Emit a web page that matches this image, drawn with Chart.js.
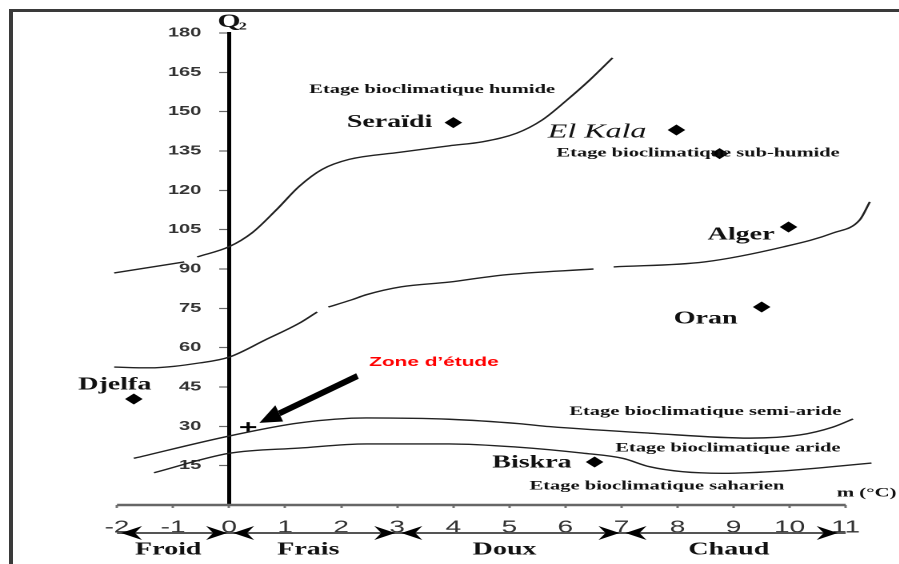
<!DOCTYPE html>
<html lang="fr">
<head>
<meta charset="utf-8">
<title>Climagramme d'Emberger</title>
<script src="https://cdn.jsdelivr.net/npm/chart.js@4/dist/chart.umd.min.js"></script>
<style>
  html, body { margin: 0; padding: 0; background: #fff; overflow: hidden; }
  #frame {
    position: absolute; left: 9px; top: 9px; width: 900px; height: 560px;
    border-top: 3px solid #3a3a3a; border-left: 4px solid #3a3a3a;
  }
  /* the original figure is stretched sideways, so is the canvas */
  #stretch { position: absolute; left: 0; top: 0; transform: scaleX(1.6); transform-origin: 0 0; }
</style>
</head>
<body>
<div id="frame"></div>
<div id="stretch"><canvas id="chart" width="562" height="564"></canvas></div>
<script>
var STRETCH = 1.6;

// limits between the bioclimatic stages (m in °C, Q2), null = gap in the drawn line
var humideM = [-2.05, -0.8, -0.68, -0.57, 0, 0.41, 0.84, 1.25, 1.66, 2.14, 3.04, 3.93, 4.52, 5.13, 5.59, 6.02, 6.43, 6.84];
var humideQ = [88.5, 92.7, null, 94.6, 98.5, 103.8, 112.5, 121.5, 128, 131.8, 134.5, 137, 138.5, 141.8, 146.9, 154.3, 162, 170.5];

var subHumideM = [-2.05, -1.43, -0.52, 0, 0.64, 1.25, 1.57, 1.67, 1.77, 2.18, 2.45, 3.07, 3.93, 4.88, 6.5, 6.68, 6.86, 8.48, 9.88, 10.77, 11.25, 11.43];
var subHumideQ = [52.6, 52.3, 54.2, 56.4, 62.9, 69.3, 73.6, null, 75.5, 78.2, 80.2, 83.2, 85, 87.7, 90, null, 90.8, 92.7, 98.4, 103.7, 108.7, 115.6];

var semiAridM = [-1.7, 0, 1.25, 2.45, 3.93, 5.18, 5.71, 7.5, 9.29, 10.18, 10.77, 11.13];
var semiAridQ = [17.8, 26.3, 31.3, 33.2, 32.7, 31.0, 29.9, 27.4, 25.5, 26.7, 29.7, 32.8];

var arideM = [-1.34, 0, 1.25, 2.45, 3.93, 5.13, 6.3, 7.02, 7.5, 8.09, 8.8, 9.88, 11.46];
var arideQ = [12.3, 19.7, 21.7, 23.3, 23.3, 22.1, 19.8, 17.8, 14.6, 12.7, 12.1, 13.0, 16.0];

// stations
var stationNames = ['Seraïdi', 'El Kala', '', 'Alger', 'Oran', 'Djelfa', 'Biskra'];
var stationM = [4.0, 7.98, 8.75, 9.98, 9.5, -1.7, 6.52];
var stationQ = [145.8, 143, 134, 106, 75.5, 40.4, 16.4];

// study area
var studyM = [0.34];
var studyQ = [29.7];

// axis
var xTicksMin = -2, xTicksMax = 11;
var zoneNames = ['Froid', 'Frais', 'Doux', 'Chaud'];
var zoneBounds = [-2, 0, 3, 7, 11];

// stage names
var stageNames = ['Etage bioclimatique humide', 'Etage bioclimatique sub-humide', 'Etage bioclimatique semi-aride', 'Etage bioclimatique aride', 'Etage bioclimatique saharien'];
var stageM = [1.43, 5.84, 6.07, 6.89, 5.36];
var stageQ = [158.4, 134.2, 35.5, 21.7, 7.2];

function pts(ms, qs) {
  return ms.map(function (m, i) { return {x: m, y: qs[i]}; });
}

var SERIF = '"Liberation Serif", "Times New Roman", serif';
var SANS = '"Liberation Sans", Arial, sans-serif';

// where each station name sits from its marker (screen px)
var nameLayout = {
  'Seraïdi': {dx: -21, dy: 0, align: 'right', font: 'bold 17.5px ' + SERIF},
  'El Kala': {dx: -30, dy: 2, align: 'right', font: 'italic 20px ' + SERIF},
  'Alger': {dx: -14, dy: 8, align: 'right', font: 'bold 17.5px ' + SERIF},
  'Oran': {dx: -24, dy: 12, align: 'right', font: 'bold 17.5px ' + SERIF},
  'Djelfa': {dx: -19, dy: -14, align: 'center', font: 'bold 17.5px ' + SERIF},
  'Biskra': {dx: -23, dy: 1, align: 'right', font: 'bold 17.5px ' + SERIF}
};

var decor = {
  id: 'decor',
  afterDatasetsDraw: function (chart) {
    var ctx = chart.ctx, xs = chart.scales.x, ys = chart.scales.y;
    var x0 = xs.getPixelForValue(0), y0 = ys.getPixelForValue(0);
    ctx.save();
    ctx.textBaseline = 'middle';
    ctx.fillStyle = '#111';

    // stage names
    ctx.font = 'bold 12.8px ' + SERIF;
    ctx.textAlign = 'left';
    stageNames.forEach(function (s, i) {
      ctx.fillText(s, xs.getPixelForValue(stageM[i]), ys.getPixelForValue(stageQ[i]));
    });

    // station names
    stationNames.forEach(function (s, i) {
      var l = nameLayout[s];
      if (!l) return;
      ctx.font = l.font;
      ctx.textAlign = l.align;
      ctx.fillText(s, xs.getPixelForValue(stationM[i]) + l.dx / STRETCH, ys.getPixelForValue(stationQ[i]) + l.dy);
    });

    // Q2 and m (°C)
    ctx.font = 'bold 18.5px ' + SERIF;
    ctx.textAlign = 'center';
    ctx.fillText('Q', x0, 22);
    ctx.font = 'bold 10px ' + SERIF;
    ctx.textAlign = 'left';
    ctx.fillText('2', x0 + 6, 27);
    ctx.font = 'bold 13px ' + SERIF;
    ctx.fillText('m (°C)', xs.getPixelForValue(10.84), y0 - 12);

    // study area
    ctx.fillStyle = '#ff0000';
    ctx.font = 'bold 13px ' + SANS;
    ctx.fillText('Zone d\u2019étude', xs.getPixelForValue(2.5), ys.getPixelForValue(54.3));

    // the rest is drawn in screen px so arrows keep their shape
    ctx.scale(1 / STRETCH, 1);
    ctx.fillStyle = '#000';
    ctx.strokeStyle = '#000';
    var ax1 = xs.getPixelForValue(2.29) * STRETCH, ay1 = ys.getPixelForValue(49.2);
    var ax2 = xs.getPixelForValue(studyM[0] + 0.2) * STRETCH, ay2 = ys.getPixelForValue(31.3);
    var a = Math.atan2(ay2 - ay1, ax2 - ax1);
    var bx = ax2 - 22 * Math.cos(a), by = ay2 - 22 * Math.sin(a);
    ctx.lineWidth = 6;
    ctx.beginPath(); ctx.moveTo(ax1, ay1); ctx.lineTo(bx, by); ctx.stroke();
    ctx.beginPath();
    ctx.moveTo(ax2, ay2);
    ctx.lineTo(bx + 9 * Math.sin(a), by - 9 * Math.cos(a));
    ctx.lineTo(bx - 9 * Math.sin(a), by + 9 * Math.cos(a));
    ctx.closePath(); ctx.fill();

    // thermal zones under the axis
    var zy = y0 + 28;
    ctx.strokeStyle = '#555';
    ctx.lineWidth = 2;
    ctx.beginPath();
    ctx.moveTo(xs.getPixelForValue(zoneBounds[0]) * STRETCH, zy);
    ctx.lineTo(xs.getPixelForValue(zoneBounds[zoneBounds.length - 1]) * STRETCH, zy);
    ctx.stroke();
    function head(tip, dir) {
      ctx.beginPath();
      ctx.moveTo(tip, zy);
      ctx.lineTo(tip - dir * 21, zy - 7);
      ctx.lineTo(tip - dir * 14, zy);
      ctx.lineTo(tip - dir * 21, zy + 7);
      ctx.closePath(); ctx.fill();
    }
    ctx.font = 'bold 17.5px ' + SERIF;
    ctx.textAlign = 'center';
    zoneNames.forEach(function (z, i) {
      var pa = xs.getPixelForValue(zoneBounds[i]) * STRETCH;
      var pb = xs.getPixelForValue(zoneBounds[i + 1]) * STRETCH;
      head(pa + 4, -1);
      head(pb - (i === zoneNames.length - 1 ? 8 : 2), 1);
      ctx.save();
      ctx.scale(STRETCH, 1);
      ctx.fillStyle = '#111';
      ctx.fillText(z, (pa + pb) / 2 / STRETCH - 3, zy + 17);
      ctx.restore();
    });
    ctx.restore();
  }
};

function curve(ms, qs) {
  return {
    data: pts(ms, qs), showLine: true, spanGaps: false, pointRadius: 0,
    borderColor: '#222', borderWidth: 1.4, cubicInterpolationMode: 'monotone'
  };
}

new Chart(document.getElementById('chart'), {
  type: 'scatter',
  data: {
    datasets: [
      curve(humideM, humideQ),
      curve(subHumideM, subHumideQ),
      curve(semiAridM, semiAridQ),
      curve(arideM, arideQ),
      {
        data: pts([xTicksMin, xTicksMax], [0, 0]), showLine: true, pointRadius: 0,
        borderColor: '#666', borderWidth: 2.5, clip: false
      },
      {
        data: pts(stationM, stationQ), pointStyle: 'rectRot', pointRadius: 5.5,
        backgroundColor: '#000', borderColor: '#000', borderWidth: 0
      },
      {
        data: pts(studyM, studyQ), pointStyle: 'cross', pointRadius: 5,
        borderColor: '#000', borderWidth: 2
      }
    ]
  },
  options: {
    responsive: false,
    devicePixelRatio: 2,
    animation: false,
    layout: { padding: { left: 41.6, right: 12.4, top: 33, bottom: 59 } },
    plugins: { legend: { display: false }, tooltip: { enabled: false } },
    scales: {
      x: {
        type: 'linear', position: { y: 0 }, min: -2.9, max: 11.6,
        border: { display: false },
        grid: { drawOnChartArea: false, drawTicks: true, tickLength: 3, tickColor: '#777', tickWidth: 1.5 },
        ticks: {
          stepSize: 1, includeBounds: false, autoSkip: false, maxRotation: 0, padding: 9,
          color: '#333', font: { family: 'Liberation Sans', size: 17.5 }
        }
      },
      y: {
        type: 'linear', position: { x: 0 }, min: 0, max: 180,
        border: { display: true, color: '#000', width: 2.5 },
        grid: { drawOnChartArea: false, drawTicks: true, tickLength: 5, tickColor: '#666', tickWidth: 1.2 },
        ticks: {
          stepSize: 15, padding: 0, color: '#333',
          font: { family: 'Liberation Sans', size: 12.5, weight: 'bold' },
          callback: function (v) { return v === 0 ? '' : v + '     '; }
        }
      }
    }
  },
  plugins: [decor]
});
</script>
</body>
</html>
